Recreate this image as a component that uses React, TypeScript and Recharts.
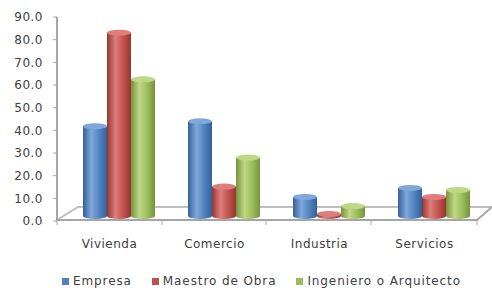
import { Bar, BarChart, Customized, Legend, XAxis, YAxis } from "recharts";

const categories = ["Vivienda", "Comercio", "Industria", "Servicios"];
const empresa = [39.6, 41.8, 8.4, 12.4];
const maestro = [80.9, 13.0, 0.9, 8.4];
const ingeniero = [60.3, 25.8, 4.4, 11.5];
const yTicks = [0, 10, 20, 30, 40, 50, 60, 70, 80, 90];

const series = [
  { key: "empresa", name: "Empresa", color: "#4F81BD", light: "#7FA7DA", dark: "#35609A" },
  { key: "maestro", name: "Maestro de Obra", color: "#C0504D", light: "#DD7E7B", dark: "#953532" },
  { key: "ingeniero", name: "Ingeniero o Arquitecto", color: "#9BBB59", light: "#BFD886", dark: "#76923C" },
];

const data = categories.map((c, i) => ({
  name: c,
  empresa: empresa[i],
  maestro: maestro[i],
  ingeniero: ingeniero[i],
}));

const font = "'DejaVu Sans', Verdana, sans-serif";

// depth offset of the 3D bars (they stand behind the front axis)
const depthX = 10;
const depthY = -5;

const cylinder = (key: string, light: string) => (props: any) => {
  const { width, height } = props;
  const x = props.x + depthX;
  const y = props.y + depthY;
  const ry = 3;
  const rx = width / 2;
  const d = `M ${x},${y} L ${x},${y + height} A ${rx} ${ry} 0 0 0 ${x + width},${y + height} L ${x + width},${y} Z`;
  return (
    <g>
      <path d={d} fill={`url(#grad-${key})`} />
      <ellipse cx={x + rx} cy={y} rx={rx} ry={ry} fill={light} />
    </g>
  );
};

const Floor = () => (
  <g stroke="#BFBFBF" strokeWidth={2} fill="none">
    <polyline points="57,220 78,207 492,207" />
    <polyline points="57,220 477,220 492,207" stroke="#A6A6A6" />
    {[57, 162, 266, 371, 477].map((x) => (
      <line key={x} x1={x} y1={220} x2={x} y2={225} stroke="#A6A6A6" strokeWidth={1} />
    ))}
  </g>
);

const LegendContent = () => (
  <div
    style={{
      display: "flex",
      whiteSpace: "nowrap",
      paddingLeft: 52,
      fontFamily: font,
      fontSize: 12,
      lineHeight: "14px",
      color: "#404040",
      letterSpacing: 0.9,
    }}
  >
    {series.map((s) => (
      <span key={s.key} style={{ display: "flex", alignItems: "center", margin: "0 10px" }}>
        <span style={{ width: 7, height: 7, background: s.color, marginRight: 4, display: "inline-block" }} />
        {s.name}
      </span>
    ))}
  </div>
);

export default function App() {
  return (
    <div style={{ position: "absolute", left: 0, top: 0 }}>
      <BarChart
        width={492}
        height={291}
        data={data}
        margin={{ top: 17, right: 15, left: 8, bottom: 0 }}
        barGap={0}
        barCategoryGap={16}
      >
        <defs>
          {series.map((s) => (
            <linearGradient key={s.key} id={`grad-${s.key}`} x1="0" y1="0" x2="1" y2="0">
              <stop offset="0%" stopColor={s.dark} />
              <stop offset="35%" stopColor={s.light} />
              <stop offset="70%" stopColor={s.color} />
              <stop offset="100%" stopColor={s.dark} />
            </linearGradient>
          ))}
        </defs>
        <Customized component={Floor} />
        <XAxis
          dataKey="name"
          axisLine={false}
          tickLine={false}
          height={56}
          tickMargin={12}
          tick={{ fontFamily: font, fontSize: 12, fill: "#404040", letterSpacing: 0.5 }}
        />
        <YAxis
          domain={[0, 90]}
          ticks={yTicks}
          width={49}
          interval={0}
          tickFormatter={(v: number) => v.toFixed(1)}
          axisLine={{ stroke: "#A6A6A6", strokeWidth: 2 }}
          tickLine={{ stroke: "#A6A6A6" }}
          tickSize={4}
          tickMargin={10}
          tick={{ fontFamily: font, fontSize: 12, fill: "#404040", letterSpacing: 0.5 }}
        />
        <Legend
          verticalAlign="bottom"
          content={LegendContent}
          wrapperStyle={{ left: 0, width: 492, bottom: 3 }}
        />
        {series.map((s) => (
          <Bar
            key={s.key}
            dataKey={s.key}
            name={s.name}
            fill={s.color}
            isAnimationActive={false}
            shape={cylinder(s.key, s.light)}
          />
        ))}
      </BarChart>
    </div>
  );
}
